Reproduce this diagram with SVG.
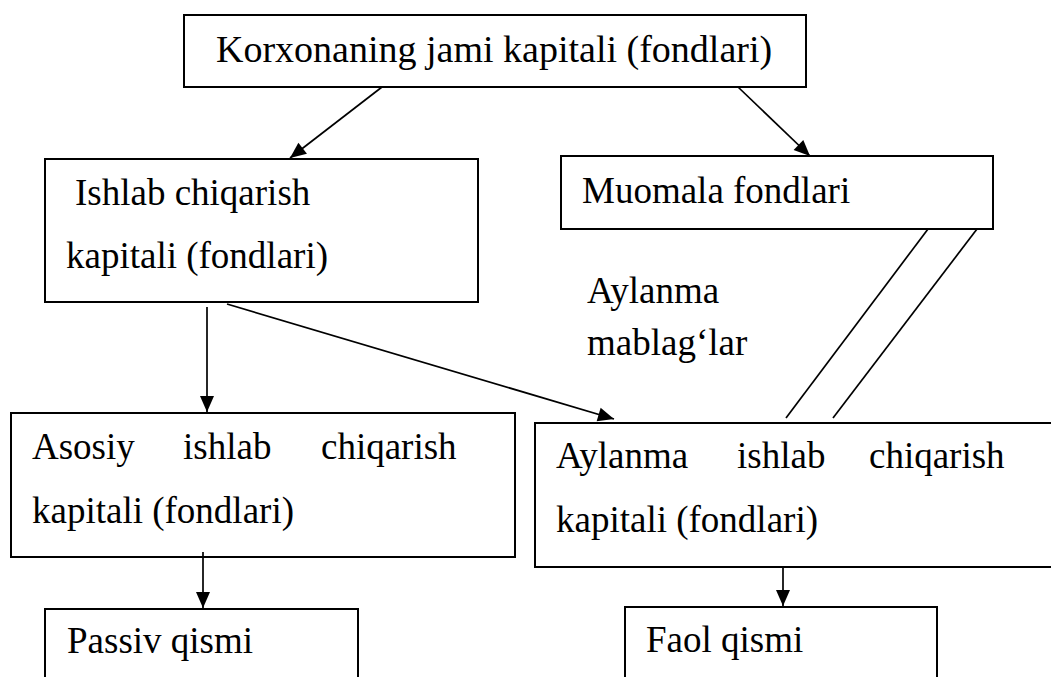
<svg xmlns="http://www.w3.org/2000/svg" width="1051" height="677" viewBox="0 0 1051 677">
<style>
.box{fill:#fff;stroke:#000;stroke-width:2}
.t{font-family:"Liberation Serif","Times New Roman",serif;font-size:37px;fill:#000}
.c{stroke:#000;stroke-width:1.7;fill:none}
</style>
<defs>
<marker id="ah" markerUnits="userSpaceOnUse" markerWidth="20" markerHeight="20" viewBox="0 0 20 20" refX="18" refY="10" orient="auto">
<path d="M2,3 L18,10 L2,17 Z" fill="#000"/>
</marker>
</defs>
<rect width="1051" height="677" fill="#fff"/>
<g id="n-top">
<rect class="box" x="184" y="15" width="622" height="72"/>
<text class="t" x="216" y="62" style="font-size:38px">Korxonaning jami kapitali (fondlari)</text>
</g>
<g id="n-ishlab">
<rect class="box" x="45" y="159" width="433" height="143"/>
<text class="t" x="75" y="205">Ishlab chiqarish</text>
<text class="t" x="66" y="268">kapitali (fondlari)</text>
</g>
<g id="n-muomala">
<rect class="box" x="561" y="156" width="432" height="73"/>
<text class="t" x="582" y="203">Muomala fondlari</text>
</g>
<g id="n-label">
<text class="t" x="587" y="303">Aylanma</text>
<text class="t" x="587" y="355">mablag‘lar</text>
</g>
<g id="n-asosiy">
<rect class="box" x="11" y="413" width="504" height="144"/>
<text class="t" x="32" y="459">Asosiy</text>
<text class="t" x="183" y="459">ishlab</text>
<text class="t" x="321" y="459">chiqarish</text>
<text class="t" x="32" y="523">kapitali (fondlari)</text>
</g>
<g id="n-aylanma">
<rect class="box" x="535" y="423" width="530" height="144"/>
<text class="t" x="556" y="468">Aylanma</text>
<text class="t" x="737" y="468">ishlab</text>
<text class="t" x="869" y="468">chiqarish</text>
<text class="t" x="556" y="532">kapitali (fondlari)</text>
</g>
<g id="n-passiv">
<rect class="box" x="45" y="609" width="313" height="90"/>
<text class="t" x="67" y="653">Passiv qismi</text>
</g>
<g id="n-faol">
<rect class="box" x="625" y="607" width="312" height="92"/>
<text class="t" x="646" y="652">Faol qismi</text>
</g>
<g id="connectors">
<line class="c" x1="382" y1="87" x2="290" y2="158" marker-end="url(#ah)"/>
<line class="c" x1="738" y1="87" x2="810" y2="156" marker-end="url(#ah)"/>
<line class="c" x1="207" y1="307" x2="207" y2="412" marker-end="url(#ah)"/>
<line class="c" x1="227" y1="304" x2="614" y2="419" marker-end="url(#ah)"/>
<line class="c" x1="203" y1="552" x2="203" y2="608" marker-end="url(#ah)"/>
<line class="c" x1="783" y1="567" x2="783" y2="606" marker-end="url(#ah)"/>
<line class="c" x1="928" y1="229" x2="786" y2="418"/>
<line class="c" x1="977" y1="229" x2="833" y2="418"/>
</g>
</svg>
